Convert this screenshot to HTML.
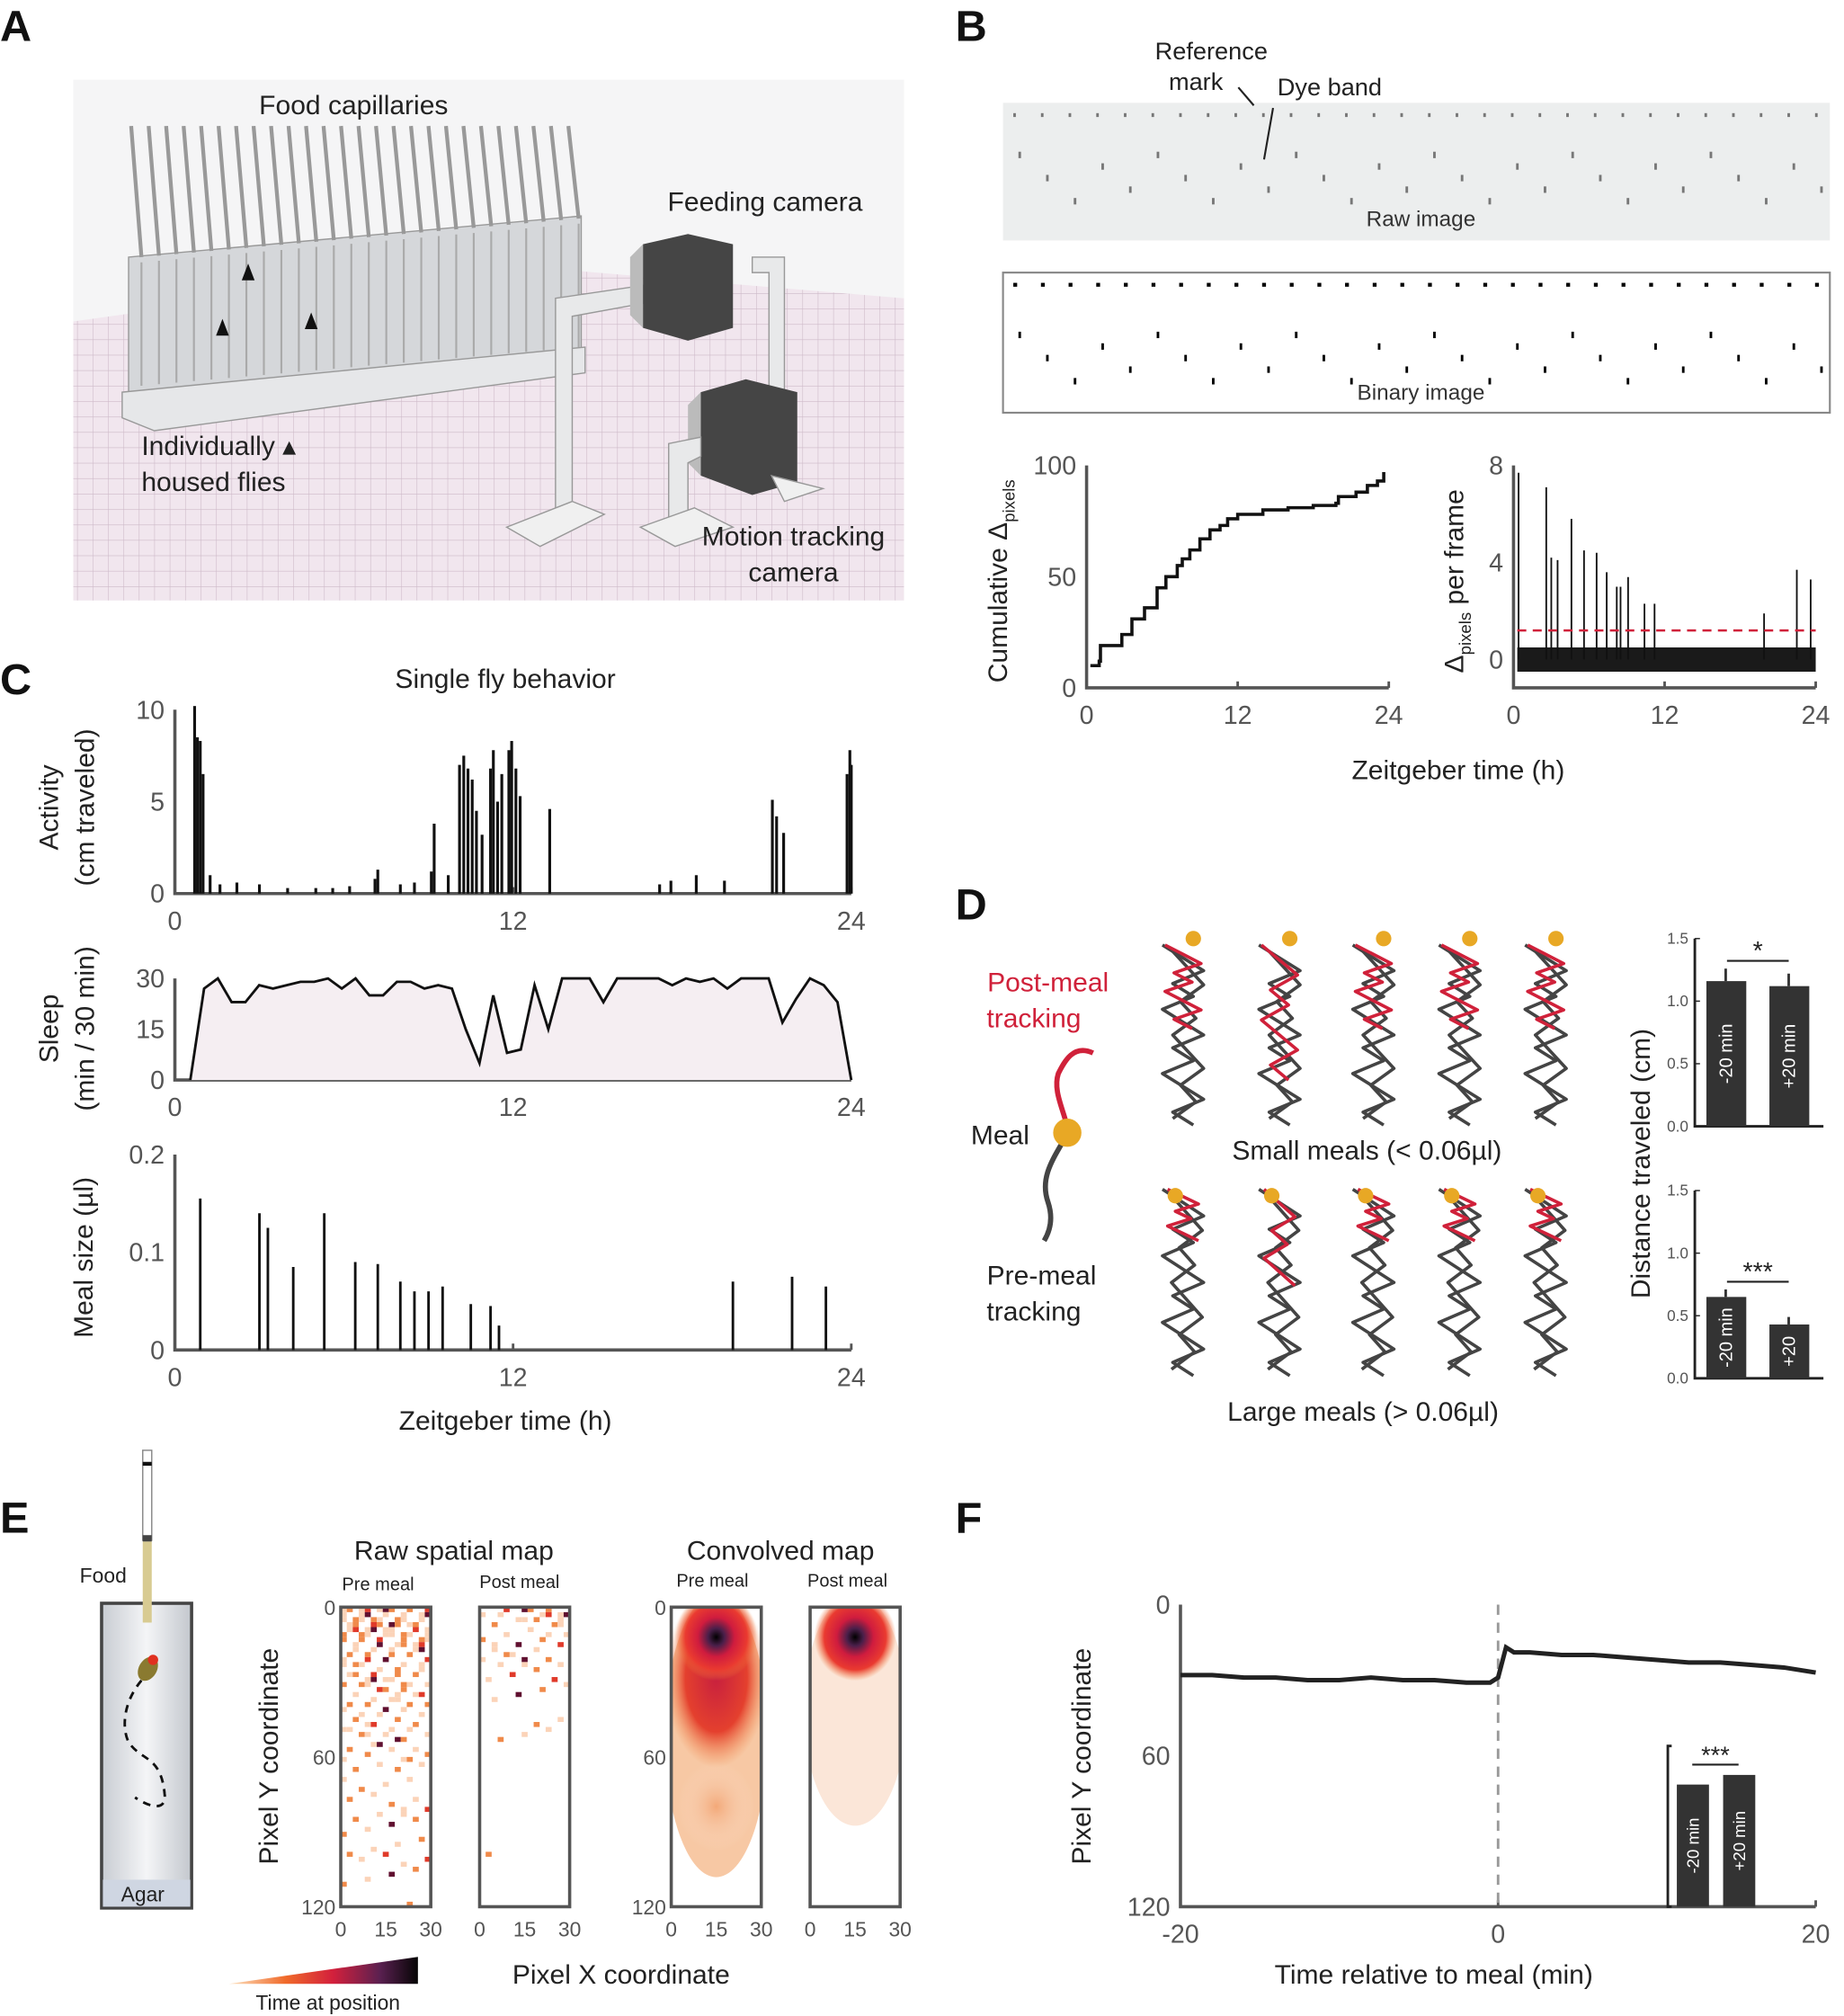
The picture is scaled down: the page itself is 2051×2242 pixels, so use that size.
<!DOCTYPE html>
<html><head><meta charset="utf-8"><style>
html,body{margin:0;padding:0;background:#fff}
svg{display:block}
text{font-family:"Liberation Sans",sans-serif}
.tk{fill:#555;font-size:20px}
.lb{fill:#222;font-size:21px}
.pl{font-weight:bold;font-size:34px;fill:#111}
</style></head><body>
<svg id="fig" width="2051" height="2242" viewBox="0 0 1434 1568" preserveAspectRatio="none" xmlns="http://www.w3.org/2000/svg">
<defs>
<pattern id="grid" width="12" height="12" patternUnits="userSpaceOnUse"><rect width="12" height="12" fill="#f1e6ee"/><path d="M0 0H12M0 0V12" stroke="#cdb9c8" stroke-width="0.8"/></pattern>
<linearGradient id="tubeg" x1="0" x2="1"><stop offset="0" stop-color="#c8ccd2"/><stop offset="0.5" stop-color="#f4f5f7"/><stop offset="1" stop-color="#c3c7cd"/></linearGradient>
<linearGradient id="cbar" x1="0" x2="1"><stop offset="0" stop-color="#fde3c0"/><stop offset="0.3" stop-color="#f06a2a"/><stop offset="0.55" stop-color="#d3203c"/><stop offset="0.8" stop-color="#5a2050"/><stop offset="1" stop-color="#050505"/></linearGradient>
<radialGradient id="hot1" cx="0.5" cy="0.5" r="0.5"><stop offset="0" stop-color="#000"/><stop offset="0.2" stop-color="#4a1f4a"/><stop offset="0.45" stop-color="#d01c3e"/><stop offset="0.75" stop-color="#ea3a30"/><stop offset="1" stop-color="#f07a3a" stop-opacity="0"/></radialGradient>
<radialGradient id="warm" cx="0.5" cy="0.5" r="0.5"><stop offset="0" stop-color="#f3a878"/><stop offset="1" stop-color="#fbe0cc" stop-opacity="0"/></radialGradient>
<radialGradient id="red2" cx="0.5" cy="0.5" r="0.5"><stop offset="0" stop-color="#c8203e"/><stop offset="0.6" stop-color="#e4402e"/><stop offset="1" stop-color="#f28a48" stop-opacity="0"/></radialGradient>
</defs>

<!-- PANEL A -->
<text class="pl" x="0" y="32">A</text>
<g>
<rect x="57" y="62" width="646" height="405" fill="#f5f5f6"/>
<polygon points="57,250 380,205 703,232 703,467 57,467" fill="url(#grid)"/>
<polygon points="100,200 452,168 452,275 100,310" fill="#d5d7da" stroke="#999"/>
<polygon points="95,305 455,270 455,290 120,335 95,325" fill="#e6e7e9" stroke="#999"/>
<g id="caps" stroke="#999" stroke-width="3"></g>
<g id="rackcols" stroke="#aaa" stroke-width="1.5"></g>
<polygon points="193,205 198,218 188,218" fill="#111"/><polygon points="173,248 178,261 168,261" fill="#111"/><polygon points="242,243 247,256 237,256" fill="#111"/>
<polygon points="432,232 500,222 500,236 445,246 445,410 432,410" fill="#e8e9ea" stroke="#999"/>
<polygon points="394,410 445,390 470,400 420,425" fill="#f0f0f0" stroke="#999"/>
<polygon points="585,200 610,200 610,320 598,320 598,212 585,212" fill="#e8e9ea" stroke="#999"/>
<polygon points="500,190 535,182 570,190 570,255 535,265 500,255" fill="#454545"/>
<polygon points="490,200 500,190 500,255 490,245" fill="#bbb"/>
<polygon points="545,305 580,295 620,305 620,375 585,385 545,370" fill="#454545"/>
<polygon points="535,315 545,305 545,370 535,360" fill="#bbb"/>
<polygon points="520,345 545,340 545,355 535,360 535,405 520,405" fill="#e8e9ea" stroke="#999"/>
<polygon points="498,410 540,395 570,410 525,425" fill="#f0f0f0" stroke="#999"/>
<polygon points="600,370 640,380 610,390" fill="#f0f0f0" stroke="#999"/>
</g>
<text class="lb" x="275" y="89" text-anchor="middle">Food capillaries</text>
<text class="lb" x="595" y="164" text-anchor="middle">Feeding camera</text>
<text class="lb" x="110" y="354">Individually ▴</text>
<text class="lb" x="110" y="382">housed flies</text>
<text class="lb" x="617" y="424" text-anchor="middle">Motion tracking</text>
<text class="lb" x="617" y="452" text-anchor="middle">camera</text>

<!-- PANEL B -->
<text class="pl" x="743" y="32">B</text>
<text x="942" y="46" text-anchor="middle" style="font-size:19px;fill:#222">Reference</text>
<text x="930" y="70" text-anchor="middle" style="font-size:19px;fill:#222">mark</text>
<text x="1034" y="74" text-anchor="middle" style="font-size:19px;fill:#222">Dye band</text>
<rect x="780" y="80" width="643" height="107" fill="#eceeee"/>
<g id="rawdots"></g>
<path d="M963 68 L975 82 M990 84 L983 124" stroke="#222" stroke-width="1.5"/>
<text x="1105" y="176" text-anchor="middle" style="font-size:17px;fill:#333">Raw image</text>
<rect x="780" y="212" width="643" height="109" fill="#fff" stroke="#888" stroke-width="1.5"/>
<g id="bindots"></g>
<text x="1105" y="311" text-anchor="middle" style="font-size:17px;fill:#333">Binary image</text>
<g id="cumplot"></g>
<g id="spikeplot"></g>
<text x="1134" y="606" text-anchor="middle" class="lb">Zeitgeber time (h)</text>
<text transform="translate(783,452) rotate(-90)" text-anchor="middle" class="lb">Cumulative Δ<tspan style="font-size:13px" dy="6">pixels</tspan></text>
<text transform="translate(1138,452) rotate(-90)" text-anchor="middle" class="lb">Δ<tspan style="font-size:13px" dy="6">pixels</tspan><tspan dy="-6"> per frame</tspan></text>

<!-- PANEL C -->
<text class="pl" x="0" y="540">C</text>
<text x="393" y="535" text-anchor="middle" class="lb">Single fly behavior</text>
<g id="actplot"></g>
<g id="sleepplot"></g>
<g id="mealplot"></g>
<text transform="translate(45,628) rotate(-90)" text-anchor="middle" class="lb">Activity</text>
<text transform="translate(73,628) rotate(-90)" text-anchor="middle" class="lb">(cm traveled)</text>
<text transform="translate(45,800) rotate(-90)" text-anchor="middle" class="lb">Sleep</text>
<text transform="translate(73,800) rotate(-90)" text-anchor="middle" class="lb">(min / 30 min)</text>
<text transform="translate(72,978) rotate(-90)" text-anchor="middle" class="lb">Meal size (µl)</text>
<text x="393" y="1112" text-anchor="middle" class="lb">Zeitgeber time (h)</text>

<!-- PANEL D -->
<text class="pl" x="743" y="715">D</text>
<text x="815" y="771" text-anchor="middle" style="font-size:21px;fill:#d0213a">Post-meal</text>
<text x="804" y="799" text-anchor="middle" style="font-size:21px;fill:#d0213a">tracking</text>
<text x="755" y="890" class="lb">Meal</text>
<path d="M850 819 C835 812 828 825 823 835 C818 850 830 868 830 880" stroke="#d0213a" stroke-width="4" fill="none"/>
<path d="M830 882 C820 900 808 915 815 935 C820 950 815 960 812 965" stroke="#444" stroke-width="4" fill="none"/>
<circle cx="830" cy="881" r="11" fill="#e8a825"/>
<text x="810" y="999" text-anchor="middle" class="lb">Pre-meal</text>
<text x="804" y="1027" text-anchor="middle" class="lb">tracking</text>
<g id="tracks"></g>
<text x="1063" y="902" text-anchor="middle" class="lb">Small meals (&lt; 0.06µl)</text>
<text x="1060" y="1105" text-anchor="middle" class="lb">Large meals (&gt; 0.06µl)</text>
<g id="dbars1"></g>
<g id="dbars2"></g>
<text transform="translate(1283,905) rotate(-90)" text-anchor="middle" class="lb">Distance traveled (cm)</text>

<!-- PANEL E -->
<text class="pl" x="0" y="1192">E</text>
<g>
<rect x="79" y="1247" width="70" height="237" fill="url(#tubeg)" stroke="#444" stroke-width="2.5"/>
<rect x="80" y="1462" width="68" height="21" fill="#cfd6e2"/>
<text x="111" y="1479" text-anchor="middle" style="font-size:16px;fill:#222">Agar</text>
<rect x="111" y="1128" width="7" height="70" fill="#fff" stroke="#888"/>
<rect x="111" y="1137" width="7" height="3" fill="#111"/>
<rect x="111" y="1194" width="7" height="5" fill="#444"/>
<rect x="111" y="1199" width="7" height="63" fill="#d8cb92"/>
<text x="62" y="1231" style="font-size:16px;fill:#222">Food</text>
<path d="M110 1307 C95 1325 95 1345 100 1355 C110 1370 125 1365 128 1395 C130 1410 115 1405 105 1398" stroke="#111" stroke-width="2" stroke-dasharray="6,5" fill="none"/>
<ellipse cx="115" cy="1298" rx="7" ry="10" fill="#8a7a30" transform="rotate(30 115 1298)"/>
<circle cx="119" cy="1291" r="4" fill="#e03020"/>
</g>
<text x="353" y="1213" text-anchor="middle" class="lb">Raw spatial map</text>
<text x="607" y="1213" text-anchor="middle" class="lb">Convolved map</text>
<text x="294" y="1237" text-anchor="middle" style="font-size:14px;fill:#222">Pre meal</text>
<text x="404" y="1235" text-anchor="middle" style="font-size:14px;fill:#222">Post meal</text>
<text x="554" y="1234" text-anchor="middle" style="font-size:14px;fill:#222">Pre meal</text>
<text x="659" y="1234" text-anchor="middle" style="font-size:14px;fill:#222">Post meal</text>
<g id="heatmaps"></g>
<text transform="translate(216,1366) rotate(-90)" text-anchor="middle" class="lb">Pixel Y coordinate</text>
<text x="483" y="1543" text-anchor="middle" class="lb">Pixel X coordinate</text>
<polygon points="178,1543 325,1522 325,1543" fill="url(#cbar)"/>
<text x="255" y="1563" text-anchor="middle" style="font-size:16px;fill:#222">Time at position</text>

<!-- PANEL F -->
<text class="pl" x="743" y="1192">F</text>
<g id="fplot"></g>
<text transform="translate(848,1366) rotate(-90)" text-anchor="middle" class="lb">Pixel Y coordinate</text>
<text x="1115" y="1543" text-anchor="middle" class="lb">Time relative to meal (min)</text>
</svg>
<script>
// ---- data ----
const cumTimes=[0.3,1.0,1.1,2.6,2.8,3.6,4.6,5.6,6.3,7.2,7.6,8.2,9.0,9.8,10.6,11.2,12,14,16,18,19.8,20.0,21.4,22.3,23.1,23.6];
const cumValues=[10,12,19,19,24,31,36,45,50,55,58,62,67,71,73,76,78,80,81,82,83,86,88,91,93,97];
const spikeTimes=[0.4,2.6,3.0,3.5,4.6,5.6,6.6,7.4,8.2,8.5,9.1,10.4,11.2,19.9,22.5,23.6];
const spikeValues=[7.7,7.1,4.2,4.1,5.8,4.5,4.4,3.6,3.0,3.0,3.4,2.3,2.3,1.9,3.7,3.3];
const threshold=[1.2];
const actTimes=[0.7,0.8,0.9,1.0,1.25,1.6,2.2,3.0,4.0,5.0,5.6,6.2,7.1,7.2,8.0,8.5,9.1,9.2,9.7,10.1,10.25,10.4,10.55,10.7,10.9,11.2,11.3,11.45,11.6,11.85,11.95,12.1,12.25,13.3,17.2,17.6,18.5,19.5,21.2,21.35,21.6,23.85,23.95,24.0];
const actValues=[10.2,8.5,8.3,6.5,1.0,0.5,0.6,0.5,0.3,0.3,0.3,0.4,0.8,1.3,0.5,0.6,1.2,3.8,1.0,7.0,7.5,6.8,6.2,4.5,3.2,6.8,7.8,5.0,6.5,7.8,8.3,6.8,5.3,4.6,0.5,0.7,1.0,0.7,5.1,4.2,3.3,6.5,7.8,7.0];
const sleepValues=[0,27,30,23,23,28,27,28,29,29,30,27,30,25,25,29,29,27,28,27,15,5,25,8,9,28,15,30,30,30,23,30,30,30,30,28,30,29,30,27,30,30,30,17,24,30,28,23,0];
const mealTimes=[0.9,3.0,3.3,4.2,5.3,6.4,7.2,8.0,8.5,9.0,9.5,10.5,11.2,11.5,19.8,21.9,23.1];
const mealValues=[0.155,0.14,0.125,0.085,0.14,0.09,0.088,0.07,0.06,0.06,0.065,0.047,0.045,0.025,0.07,0.075,0.065];
const distSmall=[1.16,1.12], distSmallErr=[0.1,0.1];
const distLarge=[0.65,0.43], distLargeErr=[0.06,0.06];
const barLabelsSmall=["-20 min","+20 min"], barLabelsLarge=["-20 min","+20"];
const fTimes=[-20,-18,-16,-14,-12,-10,-8,-6,-4,-2,-0.5,0,0.5,1,2,4,6,8,10,12,14,16,18,20];
const fValues=[28,28,29,29,30,30,29,30,30,31,31,29,17,19,19,20,20,21,22,23,23,24,25,27];
const fInset=[0.76,0.82];
const sleepTicks=[0,15,30], actTicks=[0,5,10], mealTicks=[0,0.1,0.2], hourTicks=[0,12,24];

const NS="http://www.w3.org/2000/svg";
function el(tag,attrs,parent){const e=document.createElementNS(NS,tag);for(const k in attrs)e.setAttribute(k,attrs[k]);parent.appendChild(e);return e;}
function txt(s,x,y,cls,anchor,parent){const t=el('text',{x:x,y:y,class:cls,'text-anchor':anchor},parent);t.textContent=s;return t;}
function lin(d0,d1,r0,r1){return v=>r0+(v-d0)/(d1-d0)*(r1-r0);}

// panel A capillaries
(function(){const g=document.getElementById('caps'),c=document.getElementById('rackcols');
for(let i=0;i<26;i++){const x=102+i*13.6;const top=98;const bot=200-i*1.2;
const l=el('line',{x1:x,y1:top,x2:x+8,y2:bot},g);

const k=el('line',{x1:x+8,y1:bot+4,x2:x+8,y2:bot+100},c);
}})();

// raw / binary dots
(function(){const r=document.getElementById('rawdots'),b=document.getElementById('bindots');
for(let i=0;i<30;i++){const x=788+i*21.5;
const d=el('rect',{x:x,y:88,width:2,height:3,fill:'#777'},r);
const yy=118+((i*37)%5)*9;const e=el('rect',{x:x+4,y:yy,width:2,height:5,fill:'#777'},r);
const f=el('rect',{x:x,y:220,width:3,height:3,fill:'#000'},b);
const h=el('rect',{x:x+4,y:yy+140,width:2,height:5,fill:'#000'},b);}})();

function axesXY(g,x0,x1,y0,y1,xticks,xs,yticks,ys,fmt){
 const a=el('path',{d:`M${x0} ${y1} V${y0} H${x1}`,stroke:'#555','stroke-width':2.5,fill:'none'},g);
 
 xticks.forEach(t=>{const l=txt(String(t),xs(t),y0+28,'tk','middle',g);
  el('line',{x1:xs(t),x2:xs(t),y1:y0,y2:y0-5,stroke:'#555','stroke-width':2},g);});
 yticks.forEach(t=>{const l=txt(fmt?fmt(t):String(t),x0-8,ys(t)+7,'tk','end',g);});
}

// cumulative
(function(){const g=document.getElementById('cumplot');const xs=lin(0,24,845,1080),ys=lin(0,100,535,362);
axesXY(g,845,1080,535,362,hourTicks,xs,[0,50,100],ys);
let d=`M${xs(cumTimes[0])} ${ys(cumValues[0])}`;
for(let i=1;i<cumTimes.length;i++){d+=` H${xs(cumTimes[i])} V${ys(cumValues[i])}`;}
const p=el('path',{d:d,stroke:'#111','stroke-width':2.5,fill:'none'},g);
})();

// spikes
(function(){const g=document.getElementById('spikeplot');const xs=lin(0,24,1177,1412),ys=lin(0,8,513,362);
axesXY(g,1177,1412,535,362,hourTicks,xs,[0,4,8],ys);
const band=el('rect',{x:xs(0.3),y:ys(0.5),width:xs(24)-xs(0.3),height:ys(-0.5)-ys(0.5),fill:'#1a1a1a'},g);

spikeTimes.forEach((t,i)=>{const l=el('line',{x1:xs(t),x2:xs(t),y1:ys(0),y2:ys(spikeValues[i]),stroke:'#111','stroke-width':1.3},g);
});
const th=el('line',{x1:xs(0.3),x2:xs(24),y1:ys(threshold[0]),y2:ys(threshold[0]),stroke:'#d0213a','stroke-width':1.8,'stroke-dasharray':'7,5'},g);
})();

// activity
(function(){const g=document.getElementById('actplot');const xs=lin(0,24,136,662),ys=lin(0,10,695,552);
axesXY(g,136,662,695,552,hourTicks,xs,actTicks,ys);
actTimes.forEach((t,i)=>{const w=2.2;const r=el('rect',{x:xs(t)-w/2,y:ys(actValues[i]),width:w,height:ys(0)-ys(actValues[i]),fill:'#111'},g);
});})();

// sleep
(function(){const g=document.getElementById('sleepplot');const xs=lin(0,24,148,662),ys=lin(0,30,840,761);
axesXY(g,136,662,840,761,[],xs,sleepTicks,ys);
const xs2=lin(0,24,136,662);hourTicks.forEach(t=>{const l=txt(String(t),xs2(t),868,'tk','middle',g);});
let pts=sleepValues.map((v,i)=>`${xs(i/2)},${ys(v)}`).join(' ');
const f=el('polygon',{points:`${xs(0)},${ys(0)} ${pts} ${xs(24)},${ys(0)}`,fill:'#f5eef2'},g);
const p=el('polyline',{points:pts,stroke:'#111','stroke-width':2,fill:'none'},g);})();

// meals
(function(){const g=document.getElementById('mealplot');const xs=lin(0,24,136,662),ys=lin(0,0.2,1050,898);
axesXY(g,136,662,1050,898,hourTicks,xs,mealTicks,ys);
mealTimes.forEach((t,i)=>{const l=el('line',{x1:xs(t),x2:xs(t),y1:ys(0),y2:ys(mealValues[i]),stroke:'#111','stroke-width':2},g);
});})();

// tracks (illustrative)
(function(){const g=document.getElementById('tracks');const cx=[920,995,1068,1135,1202];
function zig(x,y0,y1,w,n,col,sw){let p=[];for(let i=0;i<=n;i++){const y=y0+(y1-y0)*i/n;const dx=((i*7)%5-2)/2*w;p.push(`${x+dx},${y}`);}
const e=el('polyline',{points:p.join(' '),stroke:col,'stroke-width':sw,fill:'none','stroke-linejoin':'round'},g);}
cx.forEach((x,i)=>{zig(x,735,875,16,14,'#444',2.5);zig(x+4,740,870,12,10,'#444',2.5);
zig(x,735,(i==1?840:800),14,9,'#d0213a',2.5);
zig(x,925,1070,16,14,'#444',2.5);zig(x+3,930,1065,12,10,'#444',2.5);zig(x,925,(i==1?1000:965),12,7,'#d0213a',2.5);
const c1=el('circle',{cx:x+8,cy:730,r:6,fill:'#e8a825'},g);
const c2=el('circle',{cx:x-6,cy:930,r:6,fill:'#e8a825'},g);});})();

// distance bars
function dbars(id,y0,vals,errs,labels,star){const g=document.getElementById(id);const ys=lin(0,1.5,y0,y0-146);
const ax=el('path',{d:`M1318 ${ys(1.5)} V${y0} H1418`,stroke:'#222','stroke-width':2,fill:'none'},g);
[0,0.5,1.0,1.5].forEach(t=>{const l=txt(t.toFixed(1),1313,ys(t)+4,'tk','end',g);l.style.fontSize='12px';
el('line',{x1:1318,x2:1322,y1:ys(t),y2:ys(t),stroke:'#222'},g);});
vals.forEach((v,i)=>{const x=1327+i*49;
const e=el('line',{x1:x+15,x2:x+15,y1:ys(v),y2:ys(v+errs[i]),stroke:'#333','stroke-width':2},g);
const r=el('rect',{x:x,y:ys(v),width:31,height:y0-ys(v),fill:'#333'},g);
const t=el('text',{transform:`translate(${x+20},${y0-(y0-ys(v))/2}) rotate(-90)`,'text-anchor':'middle',fill:'#fff','font-size':'14'},g);t.textContent=labels[i];});
const m=Math.max(vals[0]+errs[0],vals[1]+errs[1]);
el('line',{x1:1343,x2:1391,y1:ys(m)-6,y2:ys(m)-6,stroke:'#222','stroke-width':1.5},g);
const s=txt(star,1367,ys(m)-7,'lb','middle',g);s.style.fontSize='20px';}
dbars('dbars1',876,distSmall,distSmallErr,barLabelsSmall,'*');
dbars('dbars2',1072,distLarge,distLargeErr,barLabelsLarge,'***');

// heatmaps
(function(){const g=document.getElementById('heatmaps');
const boxes=[[265,'raw'],[373,'raw'],[522,'conv'],[630,'conv']];
boxes.forEach((b,bi)=>{const x0=b[0],y0=1250,w=70,h=233;
const ys=lin(0,120,y0,y0+h),xs=lin(0,30,x0,x0+w);
if(b[1]=='conv'){
 const pre=bi==2;
 const cl=el('clipPath',{id:'cl'+bi},g);el('rect',{x:x0,y:y0,width:w,height:h},cl);
 const gg=el('g',{'clip-path':`url(#cl${bi})`},g);
 el('ellipse',{cx:x0+35,cy:y0+(pre?100:80),rx:40,ry:pre?110:90,fill:pre?'#f7c8a4':'#fbe6d8'},gg);
 if(pre){el('ellipse',{cx:x0+35,cy:y0+55,rx:40,ry:70,fill:'url(#red2)'},gg);el('ellipse',{cx:x0+35,cy:y0+155,rx:30,ry:35,fill:'url(#warm)'},gg);}
 el('ellipse',{cx:xs(15),cy:ys(12),rx:32,ry:34,fill:'url(#hot1)'},gg);
}else{
 const dens=bi==0?0.55:0.3;
 for(let r=0;r<60;r++)for(let c=0;c<15;c++){const hsh=((r*73+c*151+bi*17)*2654435761>>>0)%1000/1000;const p=dens*Math.exp(-r/(bi==0?22:10));
  if(hsh<p){const k=((r*31+c*7)%10);const col=k<5?'#fbd3b8':k<8?'#f08a4a':k<9?'#e03a2a':'#601030';
  const cc=el('rect',{x:x0+c*w/15,y:y0+r*h/60,width:w/15,height:h/60,fill:col},g);}}
}
const a=el('rect',{x:x0,y:y0,width:w,height:h,fill:'none',stroke:'#555','stroke-width':2.5},g);
[0,15,30].forEach(t=>{const l=txt(String(t),xs(t),y0+h+23,'tk','middle',g);l.style.fontSize='16px';});
if(bi==0||bi==2)[0,60,120].forEach(t=>{const l=txt(String(t),x0-4,ys(t)+6,'tk','end',g);l.style.fontSize='16px';});
});})();

// panel F
(function(){const g=document.getElementById('fplot');const xs=lin(-20,20,918,1412),ys=lin(0,120,1248,1483);
axesXY(g,918,1412,1483,1248,[-20,0,20],xs,[0,60,120],ys);
const dl=el('line',{x1:xs(0),x2:xs(0),y1:1248,y2:1483,stroke:'#999','stroke-width':2,'stroke-dasharray':'8,6'},g);
const p=el('polyline',{points:fTimes.map((t,i)=>`${xs(t)},${ys(fValues[i])}`).join(' '),stroke:'#222','stroke-width':3.5,fill:'none'},g);

const iy=1483,ih=125;const ia=el('path',{d:`M1300 ${iy-ih} H1297 V${iy} H1300`,stroke:'#222','stroke-width':2,fill:'none'},g);
const lab=['-20 min','+20 min'];
fInset.forEach((v,i)=>{const x=1304+i*36;const r=el('rect',{x:x,y:iy-ih*v,width:25,height:ih*v,fill:'#333'},g);
const t=el('text',{transform:`translate(${x+17},${iy-ih*v/2}) rotate(-90)`,'text-anchor':'middle',fill:'#fff','font-size':'13'},g);t.textContent=lab[i];});
el('line',{x1:1316,x2:1352,y1:iy-ih*fInset[1]-8,y2:iy-ih*fInset[1]-8,stroke:'#222','stroke-width':1.5},g);
const s=txt('***',1334,iy-ih*fInset[1]-9,'lb','middle',g);s.style.fontSize='19px';})();
</script>
</body></html>
